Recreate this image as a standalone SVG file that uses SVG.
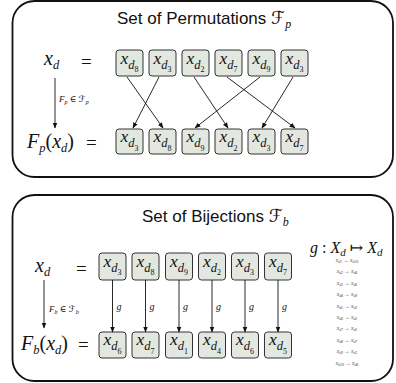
<svg xmlns="http://www.w3.org/2000/svg" width="396" height="383" viewBox="0 0 396 383">
<style>
.panel{fill:#fff;stroke:#111;stroke-width:1.8}
.box{fill:#e2e7df;stroke:#333;stroke-width:1}
.title{font-family:"Liberation Sans",Arial,sans-serif;font-size:17px;fill:#111}
.m{font-family:"Liberation Serif","DejaVu Serif",serif;font-style:italic;fill:#111}
.bx{font-size:17.5px}
.s1{font-size:12.5px}
.s2{font-size:8px;font-style:normal}
.big{font-size:20px}
.eq{font-family:"Liberation Serif",serif;font-size:19px;fill:#111}
.lab{font-size:9px}
.tiny{font-size:5.4px;fill:#444}
.scr{font-family:"DejaVu Serif","DejaVu Sans",serif;font-style:italic}
.arr{stroke:#111;stroke-width:0.9;fill:none;marker-end:url(#ah)}
</style>
<defs>
<marker id="ah" viewBox="0 0 10 10" refX="9" refY="5" markerWidth="6" markerHeight="6" orient="auto" markerUnits="userSpaceOnUse">
<path d="M0,1 L10,5 L0,9 Z" fill="#111"/>
</marker>
</defs>

<g id="panel-permutations">
<rect class="panel" x="12.5" y="1" width="380.5" height="176" rx="22"/>
<text class="title" x="117" y="24">Set of Permutations <tspan class="scr" font-size="18">ℱ</tspan><tspan class="m" font-size="12" dy="4">p</tspan></text>
<text class="m big" x="44" y="65">x<tspan class="s1" dy="4">d</tspan></text>
<text class="eq" x="81" y="68">=</text>
<text class="m big" x="27" y="148">F<tspan class="s1" dy="4">p</tspan><tspan dy="-4" font-style="normal">(</tspan>x<tspan class="s1" dy="4">d</tspan><tspan dy="-4" font-style="normal">)</tspan></text>
<text class="eq" x="86" y="149">=</text>
<text class="m lab" x="59" y="102">F<tspan font-size="6" dy="2">p</tspan><tspan dy="-2" font-style="normal"> ∈ </tspan><tspan class="scr">ℱ</tspan><tspan font-size="6" dy="2">p</tspan></text>
</g>

<g id="p-top">
<g id="pt1"><rect class="box" x="116" y="50" width="27" height="26" rx="3"/><text class="m bx" x="120.5" y="63.5">x<tspan class="s1" dy="5">d</tspan><tspan class="s2" dy="3.5">8</tspan></text></g>
<g id="pt2"><rect class="box" x="149" y="50" width="27" height="26" rx="3"/><text class="m bx" x="153.5" y="63.5">x<tspan class="s1" dy="5">d</tspan><tspan class="s2" dy="3.5">3</tspan></text></g>
<g id="pt3"><rect class="box" x="182" y="50" width="27" height="26" rx="3"/><text class="m bx" x="186.5" y="63.5">x<tspan class="s1" dy="5">d</tspan><tspan class="s2" dy="3.5">2</tspan></text></g>
<g id="pt4"><rect class="box" x="215" y="50" width="27" height="26" rx="3"/><text class="m bx" x="219.5" y="63.5">x<tspan class="s1" dy="5">d</tspan><tspan class="s2" dy="3.5">7</tspan></text></g>
<g id="pt5"><rect class="box" x="248" y="50" width="27" height="26" rx="3"/><text class="m bx" x="252.5" y="63.5">x<tspan class="s1" dy="5">d</tspan><tspan class="s2" dy="3.5">9</tspan></text></g>
<g id="pt6"><rect class="box" x="281" y="50" width="27" height="26" rx="3"/><text class="m bx" x="285.5" y="63.5">x<tspan class="s1" dy="5">d</tspan><tspan class="s2" dy="3.5">3</tspan></text></g>
</g>
<g id="p-bottom">
<g id="pb1"><rect class="box" x="116" y="129" width="27" height="25" rx="3"/><text class="m bx" x="120.5" y="142">x<tspan class="s1" dy="5">d</tspan><tspan class="s2" dy="3.5">3</tspan></text></g>
<g id="pb2"><rect class="box" x="149" y="129" width="27" height="25" rx="3"/><text class="m bx" x="153.5" y="142">x<tspan class="s1" dy="5">d</tspan><tspan class="s2" dy="3.5">8</tspan></text></g>
<g id="pb3"><rect class="box" x="182" y="129" width="27" height="25" rx="3"/><text class="m bx" x="186.5" y="142">x<tspan class="s1" dy="5">d</tspan><tspan class="s2" dy="3.5">9</tspan></text></g>
<g id="pb4"><rect class="box" x="215" y="129" width="27" height="25" rx="3"/><text class="m bx" x="219.5" y="142">x<tspan class="s1" dy="5">d</tspan><tspan class="s2" dy="3.5">2</tspan></text></g>
<g id="pb5"><rect class="box" x="248" y="129" width="27" height="25" rx="3"/><text class="m bx" x="252.5" y="142">x<tspan class="s1" dy="5">d</tspan><tspan class="s2" dy="3.5">3</tspan></text></g>
<g id="pb6"><rect class="box" x="281" y="129" width="27" height="25" rx="3"/><text class="m bx" x="285.5" y="142">x<tspan class="s1" dy="5">d</tspan><tspan class="s2" dy="3.5">7</tspan></text></g>
</g>

<g id="connectors-permutations">
<line class="arr" x1="55" y1="78" x2="55" y2="128"/>
<line class="arr" x1="127" y1="77" x2="163" y2="128"/>
<line class="arr" x1="159" y1="77" x2="133" y2="128"/>
<line class="arr" x1="194" y1="77" x2="228" y2="128"/>
<line class="arr" x1="227" y1="77" x2="295" y2="128"/>
<line class="arr" x1="260" y1="77" x2="195" y2="128"/>
<line class="arr" x1="293" y1="77" x2="262" y2="128"/>
</g>

<g id="panel-bijections">
<rect class="panel" x="12.5" y="195" width="380.5" height="186" rx="22"/>
<text class="title" x="142" y="222">Set of Bijections <tspan class="scr" font-size="18">ℱ</tspan><tspan class="m" font-size="12" dy="4">b</tspan></text>
<text class="m big" x="35" y="272">x<tspan class="s1" dy="4">d</tspan></text>
<text class="eq" x="76" y="275">=</text>
<text class="m big" x="21" y="350">F<tspan class="s1" dy="4">b</tspan><tspan dy="-4" font-style="normal">(</tspan>x<tspan class="s1" dy="4">d</tspan><tspan dy="-4" font-style="normal">)</tspan></text>
<text class="eq" x="78" y="351">=</text>
<text class="m lab" x="49" y="312">F<tspan font-size="6" dy="2">b</tspan><tspan dy="-2" font-style="normal"> ∈ </tspan><tspan class="scr">ℱ</tspan><tspan font-size="6" dy="2">b</tspan></text>
<text class="m" font-size="16" x="310" y="253">g <tspan font-style="normal">:</tspan> X<tspan font-size="11" dy="3">d</tspan><tspan dy="-3" font-style="normal"> ↦ </tspan>X<tspan font-size="11" dy="3">d</tspan></text>
<g class="m tiny" text-anchor="middle">
<text x="347" y="262">x<tspan font-size="3.8" dy="1">d1</tspan><tspan dy="-1" font-style="normal"> → </tspan>x<tspan font-size="3.8" dy="1">d10</tspan></text>
<text x="347" y="273.4">x<tspan font-size="3.8" dy="1">d2</tspan><tspan dy="-1" font-style="normal"> → </tspan>x<tspan font-size="3.8" dy="1">d4</tspan></text>
<text x="347" y="284.8">x<tspan font-size="3.8" dy="1">d3</tspan><tspan dy="-1" font-style="normal"> → </tspan>x<tspan font-size="3.8" dy="1">d6</tspan></text>
<text x="347" y="296.2">x<tspan font-size="3.8" dy="1">d4</tspan><tspan dy="-1" font-style="normal"> → </tspan>x<tspan font-size="3.8" dy="1">d9</tspan></text>
<text x="347" y="307.6">x<tspan font-size="3.8" dy="1">d5</tspan><tspan dy="-1" font-style="normal"> → </tspan>x<tspan font-size="3.8" dy="1">d3</tspan></text>
<text x="347" y="319">x<tspan font-size="3.8" dy="1">d6</tspan><tspan dy="-1" font-style="normal"> → </tspan>x<tspan font-size="3.8" dy="1">d2</tspan></text>
<text x="347" y="330.4">x<tspan font-size="3.8" dy="1">d7</tspan><tspan dy="-1" font-style="normal"> → </tspan>x<tspan font-size="3.8" dy="1">d5</tspan></text>
<text x="347" y="341.8">x<tspan font-size="3.8" dy="1">d8</tspan><tspan dy="-1" font-style="normal"> → </tspan>x<tspan font-size="3.8" dy="1">d7</tspan></text>
<text x="347" y="353.2">x<tspan font-size="3.8" dy="1">d9</tspan><tspan dy="-1" font-style="normal"> → </tspan>x<tspan font-size="3.8" dy="1">d1</tspan></text>
<text x="347" y="364.6">x<tspan font-size="3.8" dy="1">d10</tspan><tspan dy="-1" font-style="normal"> → </tspan>x<tspan font-size="3.8" dy="1">d8</tspan></text>
</g>
</g>

<g id="b-top">
<g id="bt1"><rect class="box" x="99" y="253" width="27" height="27" rx="3"/><text class="m bx" x="103.5" y="266.5">x<tspan class="s1" dy="5">d</tspan><tspan class="s2" dy="3.5">3</tspan></text></g>
<g id="bt2"><rect class="box" x="132" y="253" width="27" height="27" rx="3"/><text class="m bx" x="136.5" y="266.5">x<tspan class="s1" dy="5">d</tspan><tspan class="s2" dy="3.5">8</tspan></text></g>
<g id="bt3"><rect class="box" x="165.5" y="253" width="27" height="27" rx="3"/><text class="m bx" x="170" y="266.5">x<tspan class="s1" dy="5">d</tspan><tspan class="s2" dy="3.5">9</tspan></text></g>
<g id="bt4"><rect class="box" x="198.5" y="253" width="27" height="27" rx="3"/><text class="m bx" x="203" y="266.5">x<tspan class="s1" dy="5">d</tspan><tspan class="s2" dy="3.5">2</tspan></text></g>
<g id="bt5"><rect class="box" x="231.5" y="253" width="27" height="27" rx="3"/><text class="m bx" x="236" y="266.5">x<tspan class="s1" dy="5">d</tspan><tspan class="s2" dy="3.5">3</tspan></text></g>
<g id="bt6"><rect class="box" x="264.5" y="253" width="27" height="27" rx="3"/><text class="m bx" x="269" y="266.5">x<tspan class="s1" dy="5">d</tspan><tspan class="s2" dy="3.5">7</tspan></text></g>
</g>
<g id="b-bottom">
<g id="bb1"><rect class="box" x="99" y="332" width="27" height="26" rx="3"/><text class="m bx" x="103.5" y="345">x<tspan class="s1" dy="5">d</tspan><tspan class="s2" dy="3.5">6</tspan></text></g>
<g id="bb2"><rect class="box" x="132" y="332" width="27" height="26" rx="3"/><text class="m bx" x="136.5" y="345">x<tspan class="s1" dy="5">d</tspan><tspan class="s2" dy="3.5">7</tspan></text></g>
<g id="bb3"><rect class="box" x="165.5" y="332" width="27" height="26" rx="3"/><text class="m bx" x="170" y="345">x<tspan class="s1" dy="5">d</tspan><tspan class="s2" dy="3.5">1</tspan></text></g>
<g id="bb4"><rect class="box" x="198.5" y="332" width="27" height="26" rx="3"/><text class="m bx" x="203" y="345">x<tspan class="s1" dy="5">d</tspan><tspan class="s2" dy="3.5">4</tspan></text></g>
<g id="bb5"><rect class="box" x="231.5" y="332" width="27" height="26" rx="3"/><text class="m bx" x="236" y="345">x<tspan class="s1" dy="5">d</tspan><tspan class="s2" dy="3.5">6</tspan></text></g>
<g id="bb6"><rect class="box" x="264.5" y="332" width="27" height="26" rx="3"/><text class="m bx" x="269" y="345">x<tspan class="s1" dy="5">d</tspan><tspan class="s2" dy="3.5">5</tspan></text></g>
</g>

<g id="connectors-bijections">
<line class="arr" x1="44" y1="280" x2="44" y2="328"/>
<line class="arr" x1="112.5" y1="280" x2="112.5" y2="332"/>
<line class="arr" x1="145.5" y1="280" x2="145.5" y2="332"/>
<line class="arr" x1="179" y1="280" x2="179" y2="332"/>
<line class="arr" x1="212" y1="280" x2="212" y2="332"/>
<line class="arr" x1="245" y1="280" x2="245" y2="332"/>
<line class="arr" x1="278" y1="280" x2="278" y2="332"/>
<g class="m" font-size="10">
<text x="116.5" y="310">g</text>
<text x="149.5" y="310">g</text>
<text x="183" y="310">g</text>
<text x="216" y="310">g</text>
<text x="249" y="310">g</text>
<text x="282" y="310">g</text>
</g>
</g>
</svg>
